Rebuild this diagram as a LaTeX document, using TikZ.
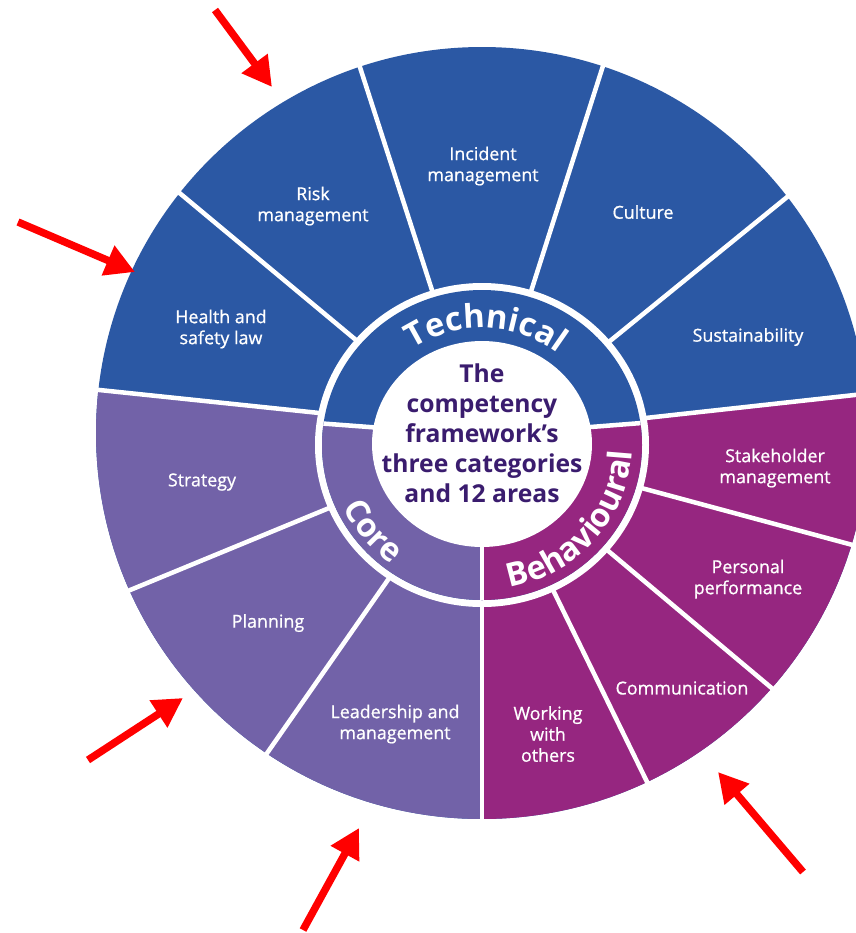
\documentclass[tikz,border=0pt]{standalone}
\usepackage{fontspec}
\setmainfont{Open Sans}
\newfontfamily\catfont{Open Sans}
\newfontfamily\lblfont[FakeBold=0.8]{Open Sans}
\usetikzlibrary{arrows.meta,decorations.text,calc}
\definecolor{techblue}{RGB}{43,88,164}
\definecolor{corepurple}{RGB}{114,98,168}
\definecolor{behmag}{RGB}{150,38,128}
\definecolor{centertext}{RGB}{58,28,110}
\definecolor{arrowred}{RGB}{255,0,0}
\begin{document}
\begin{tikzpicture}[x=0.75pt,y=0.75pt,
  lbl/.style={text=white, align=center, font=\lblfont\fontsize{13.4}{15.75}\selectfont, inner sep=0pt},
  divider/.style={draw=white, line width=3.4pt},
  redarrow/.style={draw=arrowred, line width=5.6pt, -{Triangle[length=22pt,width=23pt]}},
  cattext/.style={decorate, decoration={text along path, text align=center, text color=white,
      text={|\catfont\bfseries\fontsize{24.5}{24.5}\selectfont|#1}}}
]
\useasboundingbox (0,0) rectangle (856,-933);
\begin{scope}
\clip (0,0) rectangle (856,-933);
\coordinate (O) at (482,-433);
\coordinate (R) at (482,-445);
\coordinate (W) at (482,-444);
% outer sectors
\begin{scope}
\clip (O) circle[radius=386];
\fill[techblue] (0,0) rectangle (900,-933);
\fill[corepurple] (482,-430) -- (0,-379.6) -- (0,-933) -- (482,-933) -- cycle;
\fill[behmag] (482,-436) -- (900,-390) -- (900,-933) -- (482,-933) -- cycle;
\end{scope}
% category boundaries
\coordinate (cl) at (482,-430);
\coordinate (bl) at (0,-379.6);
\coordinate (cr) at (482,-436);
\coordinate (br) at (900,-390);
\coordinate (cb) at (482,-445);
\coordinate (bb) at (482,-933);
\draw[divider] (cl) -- (bl);
\draw[divider] (cr) -- (br);
\draw[divider] (cb) -- (bb);
% area dividers
\foreach \a in {140.2,107.9,72.3,39.1,202.4,235.1,344.9,320,296.1}
  \draw[divider] (R) -- ++(\a:420);
% ring
\fill[white] (R) ellipse[x radius=167, y radius=162];
\begin{scope}
\clip (R) ellipse[x radius=160, y radius=155];
\fill[techblue] (300,-280) rectangle (680,-620);
\fill[corepurple] (482,-435.5) -- (300,-421.8) -- (300,-620) -- (482,-620) -- cycle;
\fill[behmag] (482,-435.5) -- (680,-420) -- (680,-620) -- (482,-620) -- cycle;
\coordinate (rc) at (482,-435.5);
\coordinate (rl) at (300,-421.8);
\coordinate (rr) at (680,-420);
\coordinate (rb) at (482,-620);
\draw[divider] (rc) -- (rl);
\draw[divider] (rc) -- (rr);
\draw[divider] (rc) -- (rb);
\end{scope}
\fill[white] (W) ellipse[x radius=110, y radius=103];
% category labels
\path[cattext=Technical] ([shift={(168:122 and 117)}]R) arc[start angle=168, end angle=8, x radius=122, y radius=117];
\path[cattext=Core] ([shift={(179:153 and 148)}]R) arc[start angle=179, end angle=259, x radius=153, y radius=148];
\path[cattext=Behavioural] ([shift={(270:150 and 145)}]R) arc[start angle=270, end angle=368.5, x radius=150, y radius=145];
% centre text
\node[text=centertext, align=center, inner sep=0pt, font=\fontsize{18.5}{22.5}\selectfont\bfseries] (centre) at (482,-433)
  {The\\competency\\framework’s\\three categories\\and 12 areas};
% area labels
\node[lbl] (hsl) at (221,-329) {Health and\\safety law};
\node[lbl] (risk) at (313,-206) {Risk\\management};
\node[lbl] (inc) at (483,-166) {Incident\\management};
\node[lbl] (cult) at (643,-212) {Culture};
\node[lbl] (sust) at (748,-337) {Sustainability};
\node[lbl] (strat) at (202,-482) {Strategy};
\node[lbl] (plan) at (268,-623) {Planning};
\node[lbl] (lead) at (395,-724) {Leadership and\\management};
\node[lbl] (stake) at (775,-468) {Stakeholder\\management};
\node[lbl] (pers) at (748,-579) {Personal\\performance};
\node[lbl] (comm) at (682,-688) {Communication};
\node[lbl] (work) at (548,-734) {Working\\with\\others};
% red arrows
\coordinate (a1s) at (215,-10);  \coordinate (a1e) at (272,-87);
\coordinate (a2s) at (18,-222);  \coordinate (a2e) at (135,-272);
\coordinate (a3s) at (88,-760);  \coordinate (a3e) at (183,-698);
\coordinate (a4s) at (303,-930); \coordinate (a4e) at (359,-828);
\coordinate (a5s) at (803,-872); \coordinate (a5e) at (718,-772);
\draw[redarrow] (a1s) -- (a1e);
\draw[redarrow] (a2s) -- (a2e);
\draw[redarrow] (a3s) -- (a3e);
\draw[redarrow] (a4s) -- (a4e);
\draw[redarrow] (a5s) -- (a5e);
\end{scope}
\end{tikzpicture}
\end{document}
